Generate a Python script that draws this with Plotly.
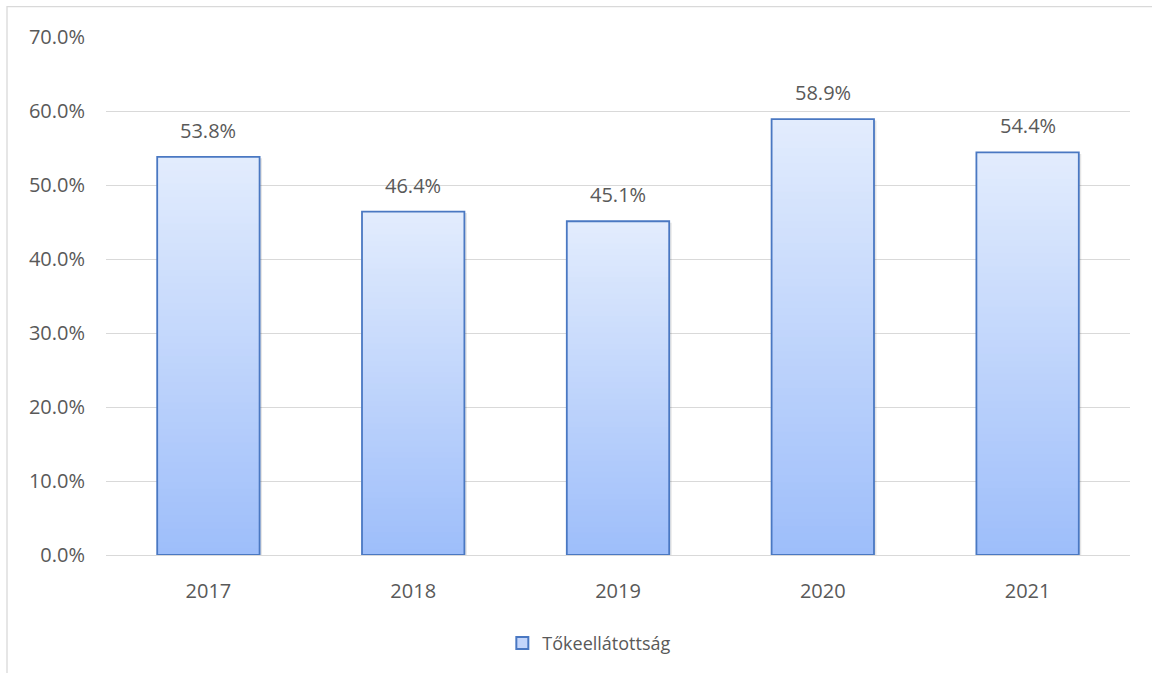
import plotly.graph_objects as go

# Capital adequacy ratio by year
years = ["2017", "2018", "2019", "2020", "2021"]
ratios = [0.538, 0.464, 0.451, 0.589, 0.544]
series_name = "Tőkeellátottság"
y_ticks = [0.0, 0.1, 0.2, 0.3, 0.4, 0.5, 0.6, 0.7]

W, H = 1152, 673
ML, MR, MT, MB = 106, 22, 37, 117
TEXT = "#595959"
GRID = "#d9d9d9"
EDGE = "#4a78c2"
TOP_RGB = (226, 236, 253)
BOT_RGB = (158, 190, 250)
FONT = "Open Sans"
BAR_W = 0.5

fig = go.Figure()

# soft shadow on the right/bottom of each bar
fig.add_trace(go.Bar(
    x=years, y=ratios, width=BAR_W, offset=-BAR_W / 2 + 0.012,
    base=[-0.002] * len(ratios),
    marker=dict(color="rgba(0,0,0,0.10)", line=dict(width=0)),
    showlegend=False, hoverinfo="skip",
))

# vertical gradient fill: each bar is built from thin slices, light at the top, darker at the bottom
N = 60
for i in range(N):
    t = i / (N - 1)
    r, g, b = (round(BOT_RGB[k] + (TOP_RGB[k] - BOT_RGB[k]) * t) for k in range(3))
    bases = [v * i / N for v in ratios]
    heights = [min(2 * v / N, v - v * i / N) for v in ratios]
    fig.add_trace(go.Bar(
        x=years, y=heights, base=bases, width=BAR_W,
        marker=dict(color=f"rgb({r},{g},{b})", line=dict(width=0)),
        showlegend=False, hoverinfo="skip",
    ))

# bar outlines
fig.add_trace(go.Bar(
    x=years, y=ratios, width=BAR_W,
    marker=dict(color="rgba(0,0,0,0)", line=dict(color=EDGE, width=1.8)),
    showlegend=False, hoverinfo="skip",
))

# legend entry
fig.add_trace(go.Bar(
    x=[years[0]], y=[None], name=series_name,
    marker=dict(color="rgb(196,214,251)", line=dict(color=EDGE, width=1.5)),
    showlegend=True,
))

# value labels above bars (category position given by index)
for idx, v in enumerate(ratios):
    fig.add_annotation(
        x=idx, y=v, xref="x", yref="y", text=f"{v * 100:.1f}%", showarrow=False,
        yanchor="bottom", yshift=11,
        font=dict(family=FONT, size=20, color=TEXT),
    )

pw = W - ML - MR
ph = H - MT - MB
# outer chart frame
fig.add_shape(
    type="rect", xref="paper", yref="paper",
    x0=(7 - ML) / pw, x1=(W + 5 - ML) / pw,
    y0=-(MB + 5) / ph, y1=(ph + MT - 6.5) / ph,
    line=dict(color=GRID, width=1.3), layer="below",
)

fig.update_layout(
    width=W, height=H,
    margin=dict(l=ML, r=MR, t=MT, b=MB),
    paper_bgcolor="white", plot_bgcolor="white",
    barmode="overlay",
    font=dict(family=FONT, size=20, color=TEXT),
    xaxis=dict(
        type="category", categoryorder="array", categoryarray=years,
        range=[-0.5, len(years) - 0.5], autorange=False,
        showgrid=False, showline=True, linecolor=GRID, linewidth=1,
        ticks="", ticklabelstandoff=18,
        tickfont=dict(family=FONT, size=20, color=TEXT),
    ),
    yaxis=dict(
        range=[0, 0.7], tickvals=y_ticks, tickformat=".1%",
        showgrid=True, gridcolor=GRID, gridwidth=1, zeroline=False,
        showline=False, ticks="", ticklabelstandoff=20,
        tickfont=dict(family=FONT, size=20, color=TEXT),
    ),
    legend=dict(
        orientation="h", x=0.472, xanchor="center", y=-0.168, yanchor="middle",
        font=dict(family=FONT, size=18, color=TEXT),
        itemsizing="constant",
    ),
)

fig.write_html("out.html")
